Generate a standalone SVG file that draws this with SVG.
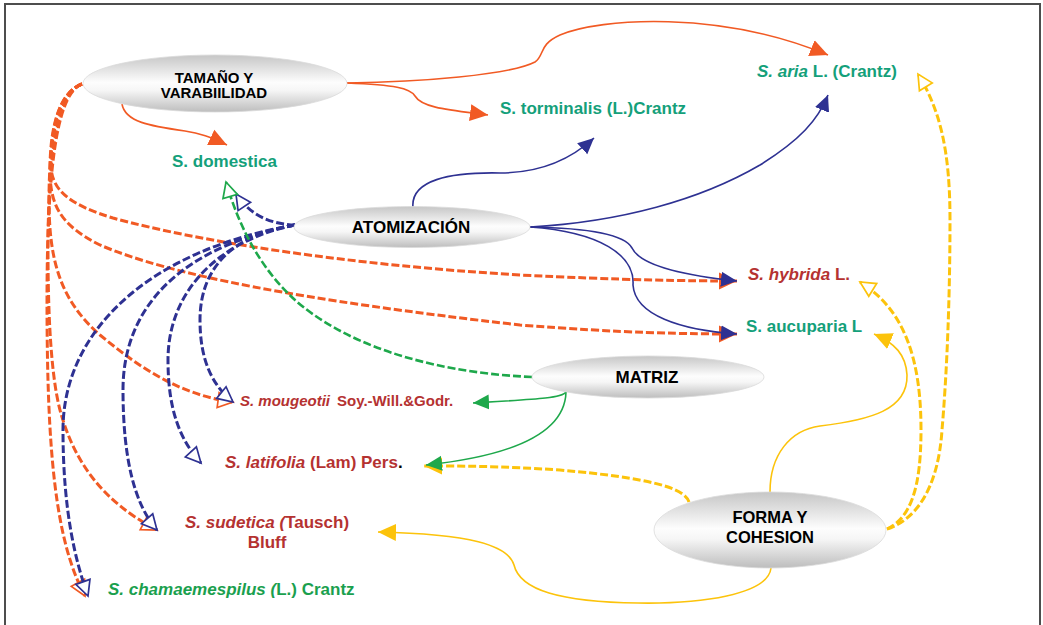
<svg xmlns="http://www.w3.org/2000/svg" width="1043" height="625" viewBox="0 0 1043 625">
<style>
.sp{font-family:"Liberation Sans",Arial,sans-serif;font-weight:bold;font-size:17px}
.tl{fill:#14a07a}
.gr{fill:#1aa04e}
.rd{fill:#b53231}
.it{font-style:italic}
.nt{font-family:"Liberation Sans",Arial,sans-serif;font-weight:bold;font-size:17px;fill:#000;text-anchor:middle}
.c{fill:none}
.or{stroke:#f15a24}
.bl{stroke:#2e3192}
.gn{stroke:#1ea84b}
.ye{stroke:#fcc30b}
.s{stroke-width:1.6}
.d{stroke-width:3;stroke-dasharray:8 3}
.dg{stroke-width:2.6;stroke-dasharray:8 3}
.ell{fill:url(#g);stroke:#dadada;stroke-width:0.8}
</style>
<defs>
<linearGradient id="g" x1="0" y1="0" x2="0" y2="1">
<stop offset="0" stop-color="#c6c6c6"/>
<stop offset="0.48" stop-color="#fdfdfd"/>
<stop offset="0.62" stop-color="#f6f6f6"/>
<stop offset="1" stop-color="#bdbdbd"/>
</linearGradient>
<marker id="aO" markerUnits="userSpaceOnUse" markerWidth="18" markerHeight="18" viewBox="0 0 18 18" refX="18" refY="9" orient="auto"><path d="M0,0.5 L18,9 L0,17.5 z" fill="#f15a24"/></marker>
<marker id="aB" markerUnits="userSpaceOnUse" markerWidth="16" markerHeight="16" viewBox="0 0 16 16" refX="16" refY="8" orient="auto"><path d="M0,0.5 L16,8 L0,15.5 z" fill="#2e3192"/></marker>
<marker id="aG" markerUnits="userSpaceOnUse" markerWidth="16" markerHeight="16" viewBox="0 0 16 16" refX="16" refY="8" orient="auto"><path d="M0,0.5 L16,8 L0,15.5 z" fill="#1ea84b"/></marker>
<marker id="aY" markerUnits="userSpaceOnUse" markerWidth="18" markerHeight="18" viewBox="0 0 18 18" refX="18" refY="9" orient="auto"><path d="M0,0.5 L18,9 L0,17.5 z" fill="#fcc30b"/></marker>
<marker id="oO" markerUnits="userSpaceOnUse" markerWidth="20" markerHeight="20" viewBox="-2 -2 20 20" refX="15" refY="8" orient="auto"><path d="M0,0.5 L15,8 L0,15.5 z" fill="#fff" stroke="#f15a24" stroke-width="1.7"/></marker>
<marker id="oB" markerUnits="userSpaceOnUse" markerWidth="20" markerHeight="20" viewBox="-2 -2 20 20" refX="15" refY="8" orient="auto"><path d="M0,0.5 L15,8 L0,15.5 z" fill="#fff" stroke="#2e3192" stroke-width="1.7"/></marker>
<marker id="oG" markerUnits="userSpaceOnUse" markerWidth="20" markerHeight="20" viewBox="-2 -2 20 20" refX="15" refY="8" orient="auto"><path d="M0,0.5 L15,8 L0,15.5 z" fill="#fff" stroke="#1ea84b" stroke-width="1.7"/></marker>
<marker id="oY" markerUnits="userSpaceOnUse" markerWidth="20" markerHeight="20" viewBox="-2 -2 20 20" refX="15" refY="8" orient="auto"><path d="M0,0.5 L15,8 L0,15.5 z" fill="#fff" stroke="#fcc30b" stroke-width="1.7"/></marker>
</defs>
<rect x="0" y="0" width="1043" height="625" fill="#fff"/>
<rect x="5" y="4" width="1035" height="640" fill="none" stroke="#4d4d4d" stroke-width="2"/>
<g id="connectors">
<path class="c or s" d="M347 83 C420 82,510 75,535 62 C545 55,538 45,560 35 C600 18,720 10,828 55" marker-end="url(#aO)"/>
<path class="c or s" d="M347 83 C395 85,410 88,415 96 C422 108,450 110,488 115" marker-end="url(#aO)"/>
<path class="c or s" d="M122 104 C125 122,150 126,185 131 C200 133,210 137,227 145" marker-end="url(#aO)"/>
<path class="c or d" d="M82 84 C60 92,51 125,51 165 C51 190,70 205,113 218 C200 242,350 265,520 275 C620 280,690 281,737 281" marker-end="url(#aO)"/>
<path class="c or d" d="M82 84 C60 92,50 125,50 170 C50 205,60 225,100 245 C170 275,300 300,520 325 C620 333,690 334,737 334" marker-end="url(#aO)"/>
<path class="c or d" d="M82 84 C60 92,49 130,49 200 C49 260,60 300,100 335 C140 368,180 395,233 402" marker-end="url(#oO)"/>
<path class="c or d" d="M82 84 C60 92,48 140,48 250 C48 350,55 395,62 417 C75 460,100 500,157 530" marker-end="url(#oO)"/>
<path class="c or d" d="M82 84 C60 92,47 150,47 300 C47 450,55 540,85 596" marker-end="url(#oO)"/>
<path class="c bl s" d="M413 208 C410 180,450 172,500 173 C540 173,570 160,594 138" marker-end="url(#aB)"/>
<path class="c bl s" d="M530 227 C620 222,700 200,760 165 C800 140,818 120,828 95" marker-end="url(#aB)"/>
<path class="c bl s" d="M530 227 C590 228,625 235,632 248 C640 265,680 275,737 281" marker-end="url(#aB)"/>
<path class="c bl s" d="M530 227 C600 232,635 255,633 285 C635 315,680 330,737 334" marker-end="url(#aB)"/>
<path class="c bl d" d="M295 225 C270 224,250 215,236 194" marker-end="url(#oB)"/>
<path class="c bl d" d="M295 225 C230 235,200 270,200 320 C200 360,212 385,233 402" marker-end="url(#oB)"/>
<path class="c bl d" d="M295 225 C220 240,168 290,168 360 C168 410,180 440,201 463" marker-end="url(#oB)"/>
<path class="c bl d" d="M295 225 C190 245,123 300,123 390 C123 460,135 505,157 530" marker-end="url(#oB)"/>
<path class="c bl d" d="M295 225 C150 250,63 330,63 430 C63 510,75 560,88 596" marker-end="url(#oB)"/>
<path class="c gn dg" d="M532 377 C420 372,340 340,295 300 C262 270,240 230,226 182" marker-end="url(#oG)"/>
<path class="c gn s" d="M566 392 C562 398,540 399,473 403" marker-end="url(#aG)"/>
<path class="c ye d" d="M689 502 C685 488,650 478,560 470 C500 466,460 466,424 466" marker-end="url(#aY)"/>
<path class="c gn s" d="M566 392 C565 430,520 455,426 465" marker-end="url(#aG)"/>
<path class="c ye s" d="M771 568 C768 595,700 604,638 603 C560 602,520 590,514 565 C508 545,470 534,378 532" marker-end="url(#aY)"/>
<path class="c ye s" d="M770 492 C770 455,790 430,820 426 C870 420,908 410,907 375 C906 355,895 343,874 334" marker-end="url(#aY)"/>
<path class="c ye d" d="M887 529 C910 518,921 490,921 430 C921 360,905 310,860 282" marker-end="url(#oY)"/>
<path class="c ye d" d="M887 529 C915 520,938 490,942 430 C948 360,950 280,950 220 C950 150,940 110,918 74" marker-end="url(#oY)"/>
</g>
<g id="n-tamano">
<ellipse class="ell" cx="215" cy="83.5" rx="132" ry="28.5"/>
<text class="nt" style="font-size:15px" x="214" y="83">TAMAÑO Y</text>
<text class="nt" style="font-size:15px" x="214" y="98">VARABIILIDAD</text>
</g>
<g id="n-atomizacion">
<ellipse class="ell" cx="412" cy="227" rx="118" ry="20.5"/>
<text class="nt" x="411" y="233">ATOMIZACIÓN</text>
</g>
<g id="n-matriz">
<ellipse class="ell" cx="648" cy="377" rx="116" ry="21"/>
<text class="nt" x="647" y="383">MATRIZ</text>
</g>
<g id="n-forma">
<ellipse class="ell" cx="770" cy="530" rx="116" ry="38"/>
<text class="nt" style="font-size:16.5px" x="770" y="523">FORMA Y</text>
<text class="nt" style="font-size:16.5px" x="770" y="543">COHESION</text>
</g>
<g id="n-domestica"><text class="sp tl" x="172" y="167">S. domestica</text></g>
<g id="n-torminalis"><text class="sp tl" x="500" y="114">S. torminalis (L.)Crantz</text></g>
<g id="n-aria"><text class="sp tl" x="757" y="77"><tspan class="it">S. aria</tspan> L. (Crantz)</text></g>
<g id="n-hybrida"><text class="sp rd" x="748" y="280"><tspan class="it">S. hybrida</tspan> L.</text></g>
<g id="n-aucuparia"><text class="sp tl" x="746" y="332">S. aucuparia L</text></g>
<g id="n-mougeotii"><text class="sp rd" style="font-size:15px" x="240" y="406"><tspan class="it">S. mougeotii</tspan><tspan x="337">Soy.-Will.&amp;Godr.</tspan></text></g>
<g id="n-latifolia"><text class="sp rd" x="225" y="468"><tspan class="it">S. latifolia</tspan> (Lam) Pers<tspan fill="#000">.</tspan></text></g>
<g id="n-sudetica"><text class="sp rd" x="185" y="528"><tspan class="it">S. sudetica (</tspan>Tausch)</text><text class="sp rd" x="267" y="548" text-anchor="middle">Bluff</text></g>
<g id="n-chamaemespilus"><text class="sp gr" x="108" y="595"><tspan class="it">S. chamaemespilus (</tspan>L.) Crantz</text></g>
</svg>
